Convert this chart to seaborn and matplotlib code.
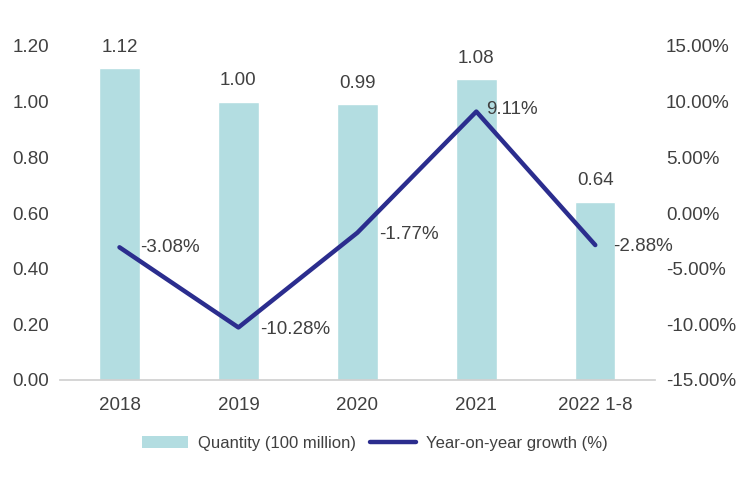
import pandas as pd
import matplotlib.pyplot as plt
import seaborn as sns
from matplotlib.patches import Patch
from matplotlib.lines import Line2D

years = ["2018", "2019", "2020", "2021", "2022 1-8"]
quantity = [1.12, 1.00, 0.99, 1.08, 0.64]
growth = [-3.08, -10.28, -1.77, 9.11, -2.88]

BAR_COLOR = "#b3dde1"
LINE_COLOR = "#2b2d8e"
TEXT_COLOR = "#404040"

sns.set_theme(style="white")
plt.rcParams["font.family"] = ["Liberation Sans", "DejaVu Sans"]

df = pd.DataFrame({"year": years, "quantity": quantity, "growth": growth})

fig = plt.figure(figsize=(7.5, 5), dpi=100)
ax = fig.add_axes([0.08, 0.24, 0.793, 0.668])

sns.barplot(data=df, x="year", y="quantity", color=BAR_COLOR, width=0.34,
            saturation=1, ax=ax)
ax.set_ylim(0, 1.2)
ax.set_yticks([0, 0.2, 0.4, 0.6, 0.8, 1.0, 1.2])
ax.set_yticklabels([f"{v:.2f}" for v in ax.get_yticks()])
ax.set_xlim(-0.5, 4.5)
ax.set_xlabel("")
ax.set_ylabel("")
for s in ["top", "left", "right"]:
    ax.spines[s].set_visible(False)
ax.spines["bottom"].set_color("#d0d0d0")
ax.tick_params(axis="both", length=0, labelsize=13.5, colors=TEXT_COLOR)
ax.tick_params(axis="x", pad=12)
ax.tick_params(axis="y", pad=8)

for i, q in enumerate(quantity):
    ax.text(i, q + 0.045, f"{q:.2f}", ha="center", va="bottom",
            fontsize=13.5, color=TEXT_COLOR)

ax2 = ax.twinx()
ax2.plot(range(len(years)), growth, color=LINE_COLOR, linewidth=3.2,
         solid_capstyle="round")
ax2.set_ylim(-15, 15)
ax2.set_yticks(range(-15, 16, 5))
ax2.set_yticklabels([f"{v:.2f}%" for v in range(-15, 16, 5)])
for s in ["top", "left", "right", "bottom"]:
    ax2.spines[s].set_visible(False)
ax2.tick_params(axis="y", length=0, labelsize=13.5, colors=TEXT_COLOR, pad=8)

offsets = [(0.17, 0.0), (0.18, -0.2), (0.18, -0.2), (0.08, 0.2), (0.15, -0.1)]
for i, g in enumerate(growth):
    dx, dy = offsets[i]
    ax2.text(i + dx, g + dy, f"{g:.2f}%", ha="left", va="center",
             fontsize=13.5, color=TEXT_COLOR)

handles = [Patch(facecolor=BAR_COLOR, edgecolor="none"),
           Line2D([0], [0], color=LINE_COLOR, linewidth=3.2)]
labels = ["Quantity (100 million)", "Year-on-year growth (%)"]
fig.legend(handles, labels, loc="center", bbox_to_anchor=(0.5, 0.113),
           ncol=2, frameon=False, fontsize=12, handlelength=2.8,
           columnspacing=0.8, handletextpad=0.6, labelcolor=TEXT_COLOR)

fig.savefig("out.png", dpi=100)
